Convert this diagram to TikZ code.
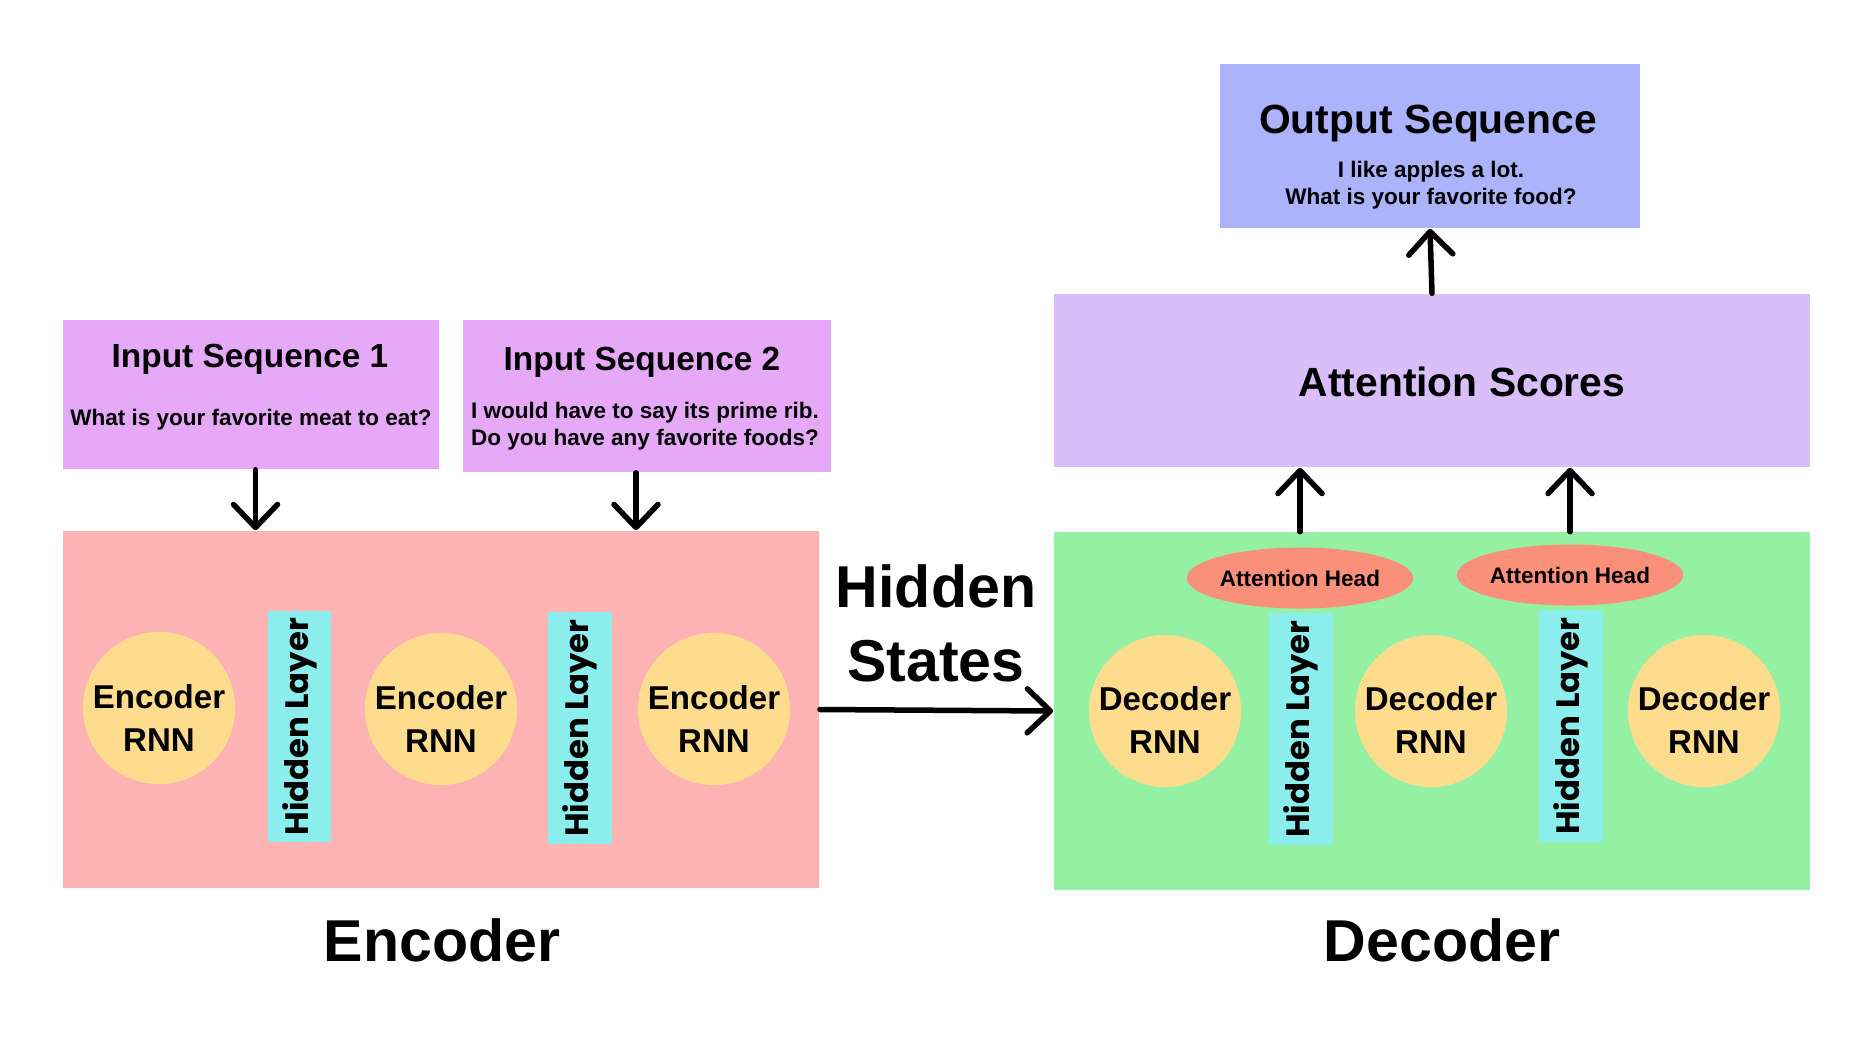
\documentclass[tikz,border=0pt]{standalone}
\usepackage{fontspec}
\setmainfont{Liberation Sans}
\newfontfamily\hidfont{Poppins}
\usepackage{tikz}
\usetikzlibrary{arrows.meta, shapes.geometric}
\definecolor{inpink}{HTML}{E5A9F8}
\definecolor{encred}{HTML}{FDB3B3}
\definecolor{decgreen}{HTML}{94F1A4}
\definecolor{rnnyellow}{HTML}{FDDC8D}
\definecolor{hidcyan}{HTML}{8BEDEC}
\definecolor{headsalmon}{HTML}{FA907A}
\definecolor{attlav}{HTML}{D8BFF9}
\definecolor{outblue}{HTML}{ABB4FB}
\tikzset{>={Straight Barb[length=2.3mm,width=4.4mm,round]}}
\tikzset{
  plainbox/.style={rectangle, inner sep=0pt},
  rnn/.style={circle, fill=rnnyellow, minimum size=15.2mm, inner sep=0pt},
  rnntxt/.style={align=center, font=\fontsize{9.4}{12}\selectfont\bfseries},
  hidbar/.style={rectangle, fill=hidcyan, rotate=90, inner sep=0pt, minimum width=23.1mm,
    minimum height=6.3mm, font=\hidfont\fontsize{9.2}{11}\selectfont\bfseries},
  headoval/.style={ellipse, fill=headsalmon, inner sep=0pt, minimum width=22.5mm,
    minimum height=6.1mm, font=\fontsize{6.4}{8}\selectfont\bfseries},
  titletxt/.style={font=\fontsize{9.5}{11}\selectfont\bfseries},
  smalltxt/.style={align=center, font=\fontsize{6.4}{7.7}\selectfont\bfseries},
  bigtxt/.style={align=center, font=\fontsize{16.8}{21}\selectfont\bfseries},
  arrowline/.style={->, line width=0.55mm, line cap=round}
}
\begin{document}
\begin{tikzpicture}[x=0.01cm, y=-0.01cm]
  \useasboundingbox (0,0) rectangle (1872,1038);

  % input sequences
  \node[plainbox, fill=inpink, minimum width=37.6mm, minimum height=14.9mm] (in1) at (251,394.5) {};
  \node[titletxt] (in1t) at (250,359) {Input Sequence 1};
  \node[smalltxt] (in1s) at (251,420) {What is your favorite meat to eat?};
  \node[plainbox, fill=inpink, minimum width=36.8mm, minimum height=15.2mm] (in2) at (647,396) {};
  \node[titletxt] (in2t) at (642,362) {Input Sequence 2};
  \node[smalltxt] (in2s) at (645,426) {I would have to say its prime rib.\\ Do you have any favorite foods?};

  % encoder
  \node[plainbox, fill=encred, minimum width=75.6mm, minimum height=35.7mm] (enc) at (441,709.5) {};
  \node[rnn] (e1) at (159,708) {};
  \node[rnn] (e2) at (441,709) {};
  \node[rnn] (e3) at (714,709) {};
  \node[rnntxt] (e1t) at ([yshift=-1mm]e1) {Encoder\\RNN};
  \node[rnntxt] (e2t) at ([yshift=-1mm]e2) {Encoder\\RNN};
  \node[rnntxt] (e3t) at ([yshift=-1mm]e3) {Encoder\\RNN};
  \node[hidbar] (eh1) at (299.5,726.5) {Hidden Layer};
  \node[hidbar] (eh2) at (580,728) {Hidden Layer};
  \node[bigtxt] (enclab) at (442,940) {Encoder};

  \node[bigtxt] (hs) at (936,623) {Hidden\\States};

  % decoder
  \node[plainbox, fill=decgreen, minimum width=75.6mm, minimum height=35.7mm] (dec) at (1432,711) {};
  \node[rnn] (d1) at (1165,711) {};
  \node[rnn] (d2) at (1431,711) {};
  \node[rnn] (d3) at (1704,711) {};
  \node[rnntxt] (d1t) at ([yshift=-0.9mm]d1) {Decoder\\RNN};
  \node[rnntxt] (d2t) at ([yshift=-0.9mm]d2) {Decoder\\RNN};
  \node[rnntxt] (d3t) at ([yshift=-0.9mm]d3) {Decoder\\RNN};
  \node[hidbar] (dh1) at (1301,729) {Hidden Layer};
  \node[hidbar] (dh2) at (1571,726) {Hidden Layer};
  \node[headoval] (ah1) at (1300,578) {Attention Head};
  \node[headoval] (ah2) at (1570,575) {Attention Head};
  \node[bigtxt] (declab) at (1442,940) {Decoder};

  % attention and output
  \node[plainbox, fill=attlav, minimum width=75.6mm, minimum height=17.3mm] (att) at (1432,380.5) {};
  \node[font=\fontsize{11.6}{14}\selectfont\bfseries] (attt) at (1462,382) {Attention Scores};
  \node[plainbox, fill=outblue, minimum width=42mm, minimum height=16.4mm] (out) at (1430,146) {};
  \node[font=\fontsize{11.6}{14}\selectfont\bfseries] (outt) at (1428,123) {Output Sequence};
  \node[smalltxt] (outs) at (1431,185) {I like apples a lot.\\What is your favorite food?};

  % arrows
  \draw[arrowline] ([xshift=0.45mm]in1.south) -- ([xshift=0.45mm]in1.south |- enc.north);
  \draw[arrowline] ([xshift=-1.1mm]in2.south) -- ([xshift=-1.1mm]in2.south |- enc.north);
  \draw[arrowline] (enc.east) -- (dec.west);
  \draw[arrowline] (ah1 |- dec.north) -- (ah1 |- att.south);
  \draw[arrowline] (ah2 |- dec.north) -- (ah2 |- att.south);
  \draw[arrowline] (att.north) -- (out.south);
\end{tikzpicture}
\end{document}
